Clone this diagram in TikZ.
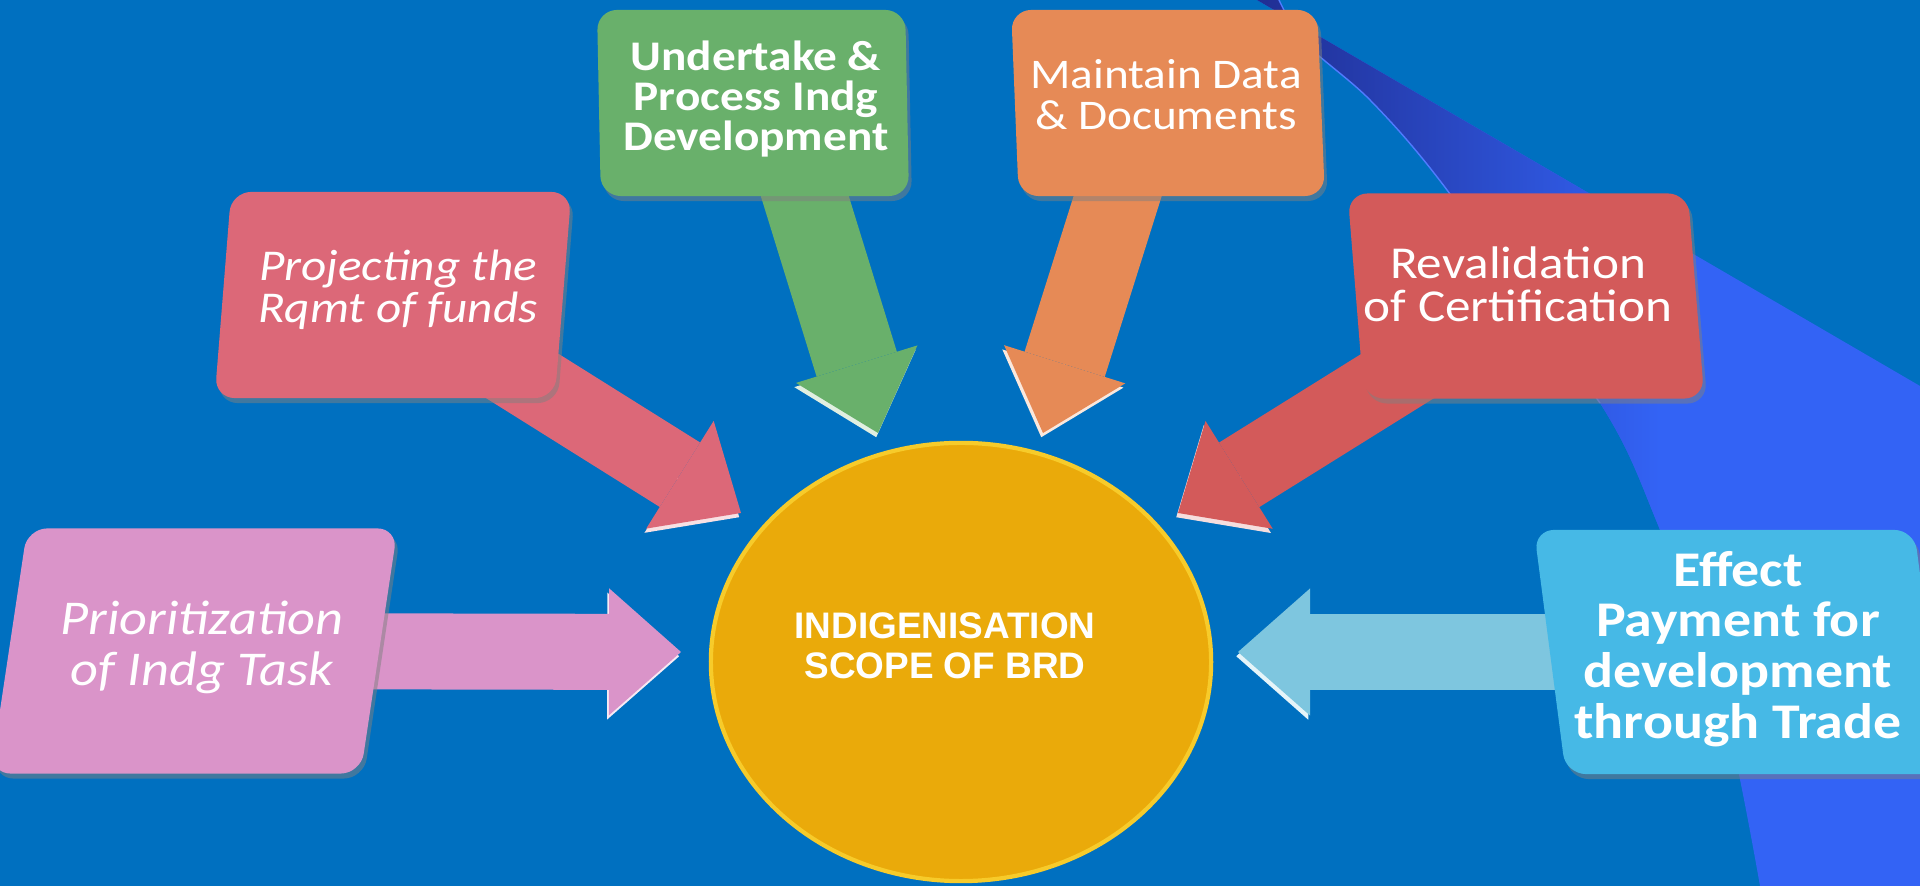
\documentclass[tikz,border=0pt]{standalone}
\usepackage{fontspec}
\setmainfont{Carlito}
\newfontfamily\boxfont{Carlito}[FakeStretch=1.12]
\newfontfamily\arialfont{Liberation Sans}
\usetikzlibrary{arrows.meta, shadows, shapes.geometric}

\definecolor{bgblue}{HTML}{0070C0}
\definecolor{navyband}{HTML}{202E93}
\definecolor{brightband}{HTML}{3363F5}
\definecolor{edgeline}{HTML}{4F7BFF}
\definecolor{prioc}{HTML}{DA94C9}
\definecolor{projc}{HTML}{DC6878}
\definecolor{undc}{HTML}{69B06B}
\definecolor{maintc}{HTML}{E68A56}
\definecolor{revalc}{HTML}{D35A5A}
\definecolor{effectc}{HTML}{46B9E6}
\definecolor{effarrc}{HTML}{7EC6DF}
\definecolor{corec}{HTML}{EAAA0A}
\definecolor{rimc}{HTML}{F7CB2A}

\pgfdeclarelayer{bg}
\pgfdeclarelayer{arrows}
\pgfsetlayers{bg,arrows,main}

\begin{document}
\begin{tikzpicture}[x=0.01cm, y=-0.01cm,
        box/.style={rectangle, rounded corners=0.2cm, inner sep=0pt, transform shape,
            drop shadow={shadow xshift=0.03cm, shadow yshift=-0.05cm, opacity=0.5}},
        boxtext/.style={text=white, align=center, inner sep=0pt},
        blockarrow/.style={draw=#1, line width=0.76cm,
            preaction={draw=white!80!#1, transform canvas={xshift=-0.5pt, yshift=-1.2pt}},
            -{Triangle[width=1.27cm, length=0.72cm, line width=0pt]}}]
        \useasboundingbox (0,0) rectangle (1920,886);

        % Background
        \begin{pgfonlayer}{bg}
            \fill[bgblue] (0,0) rectangle (1920,886);
            \begin{scope}
                \clip (1257,0) -- (1920,386) -- (1920,886) -- (1760,886) -- plot[smooth] coordinates
                    {(1760,886) (1722,700) (1656,520) (1600,403) (1444,186) (1370,100) (1305,43) (1279,0)} -- cycle;
                \fill[brightband] (1257,0) rectangle (1920,886);
                \shade[left color=navyband, right color=brightband] (1257,0) rectangle (1660,886);
            \end{scope}
            \draw[edgeline, line width=0.4pt] plot[smooth] coordinates
                {(1279,0) (1305,43) (1370,100) (1444,186) (1600,403)};
        \end{pgfonlayer}

        % Boxes
        \node[box, xslant=0.15, fill=prioc, minimum width=3.7cm, minimum height=2.45cm] (prio) at (194,651) {};
        \node[box, xslant=0.08, fill=projc, minimum width=3.4cm, minimum height=2.06cm] (proj) at (393,295) {};
        \node[box, xslant=-0.02, fill=undc, minimum width=3.08cm, minimum height=1.86cm] (und) at (753,103) {};
        \node[box, xslant=-0.04, fill=maintc, minimum width=3.06cm, minimum height=1.86cm] (maint) at (1168,103) {};
        \node[box, xslant=-0.08, fill=revalc, minimum width=3.4cm, minimum height=2.05cm] (reval) at (1526,296) {};
        \node[box, xslant=-0.13, fill=effectc, minimum width=3.8cm, minimum height=2.44cm] (effect) at (1740,652) {};
        \node[ellipse, fill=corec, draw=rimc, line width=1.2pt, minimum width=5cm, minimum height=4.38cm] (core) at (961,662) {};

        % Texts
        \node[boxtext, font=\boxfont\itshape\fontsize{13.8}{14.5}\selectfont] (prio-txt) at (202,647) {Prioritization\\of Indg Task};
        \node[boxtext, font=\boxfont\itshape\fontsize{12.5}{12}\selectfont] (proj-txt) at (398,290) {Projecting the\\Rqmt of funds};
        \node[boxtext, font=\boxfont\bfseries\fontsize{12}{11.4}\selectfont] (und-txt) at (756,99) {Undertake \&\\Process Indg\\Development};
        \node[boxtext, font=\boxfont\fontsize{12}{11.6}\selectfont] (maint-txt) at (1166,95) {Maintain Data\\\& Documents};
        \node[boxtext, font=\boxfont\fontsize{13}{12.2}\selectfont] (reval-txt) at (1518,284) {Revalidation\\of Certification};
        \node[boxtext, font=\boxfont\bfseries\fontsize{14.2}{14.4}\selectfont] (effect-txt) at (1738,649) {Effect\\Payment for\\development\\through Trade};
        \node[boxtext, font=\arialfont\bfseries\fontsize{10.5}{11.4}\selectfont] (core-txt) at (945,646) {INDIGENISATION\\SCOPE OF BRD};

        % Arrow tips
        \coordinate (t1) at (681,652);
        \coordinate (t2) at (741,513);
        \coordinate (t3) at (878,433);
        \coordinate (t4) at (1043,433);
        \coordinate (t5) at (1178,513);
        \coordinate (t6) at (1238,652);

        % Arrows
        \begin{pgfonlayer}{arrows}
            \draw[blockarrow=prioc] (prio.center) -- (t1);
            \draw[blockarrow=projc] (proj.center) -- (t2);
            \draw[blockarrow=undc, line width=0.84cm] ([xshift=0.23cm]und.center) -- (t3);
            \draw[blockarrow=maintc, line width=0.84cm] ([xshift=-0.21cm]maint.center) -- (t4);
            \draw[blockarrow=revalc] (reval.center) -- (t5);
            \draw[blockarrow=effarrc] (effect.center) -- (t6);
        \end{pgfonlayer}
\end{tikzpicture}
\end{document}
